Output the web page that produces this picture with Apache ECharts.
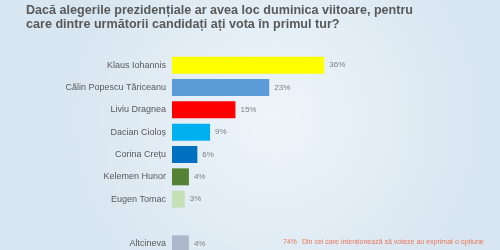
<!DOCTYPE html>
<html><head><meta charset="utf-8">
<script src="https://cdn.jsdelivr.net/npm/echarts@6/dist/echarts.min.js"></script>
<style>html,body{margin:0;padding:0;overflow:hidden;}#c{width:500px;height:262px;}</style>
</head><body><div id="c"></div>
<script>
const titleLines = ["Dacă alegerile prezidențiale ar avea loc duminica viitoare, pentru", "care dintre următorii candidați ați vota în primul tur?"];
const categories = ["Klaus Iohannis", "Călin Popescu Tăriceanu", "Liviu Dragnea", "Dacian Cioloș", "Corina Crețu", "Kelemen Hunor", "Eugen Tomac", "", "Altcineva"];
const values = [36, 23, 15, 9, 6, 4, 3, null, 4];
const barColors = ["#FFFF00", "#5B9BD5", "#FF0000", "#00B0F0", "#0070C0", "#548235", "#C5E0B4", "#ffffff", "#ADB9CA"];
const noteValue = "74%";
const noteText = "Din cei care intenționează să voteze au exprimat o opțiune";

const chart = echarts.init(document.getElementById('c'));
chart.setOption({
  backgroundColor: {type:'radial', x:0.55, y:0.45, r:0.8, colorStops:[{offset:0,color:'#EEF5FA'},{offset:1,color:'#D8E6F1'}]},
  animation:false,
  title: {
    text: titleLines.join('\n'), left: 26, top: 4, padding: 0,
    textStyle: {fontFamily:'Liberation Sans, Arial', fontWeight:'bold', fontSize:12.6, color:'#595959', lineHeight:14}
  },
  graphic: [
    {type:'text', left:283, top:239, style:{text:noteValue, fill:'#E9765A', font:'7px Liberation Sans, Arial'}},
    {type:'text', left:302, top:239, style:{text:noteText, fill:'#E9765A', font:'7px Liberation Sans, Arial'}}
  ],
  grid: {left:172, top:54, width:296, height:201},
  xAxis: {type:'value', min:0, max:70, show:false},
  yAxis: {
    type:'category', data:categories, inverse:true,
    axisLine:{show:false}, axisTick:{show:false}, splitLine:{show:false},
    axisLabel:{margin:6, fontFamily:'Liberation Sans, Arial', fontSize:9, color:'#595959'}
  },
  series: [{
    type:'bar', barWidth:17,
    data: values.map((v,i)=>({value:v, itemStyle:{color:barColors[i]}})),
    label:{show:true, position:'right', distance:5, fontFamily:'Liberation Sans, Arial', fontSize:8, color:'#7F7F7F',
      formatter: p => p.value == null ? '' : p.value + '%'}
  }]
});
</script></body></html>
